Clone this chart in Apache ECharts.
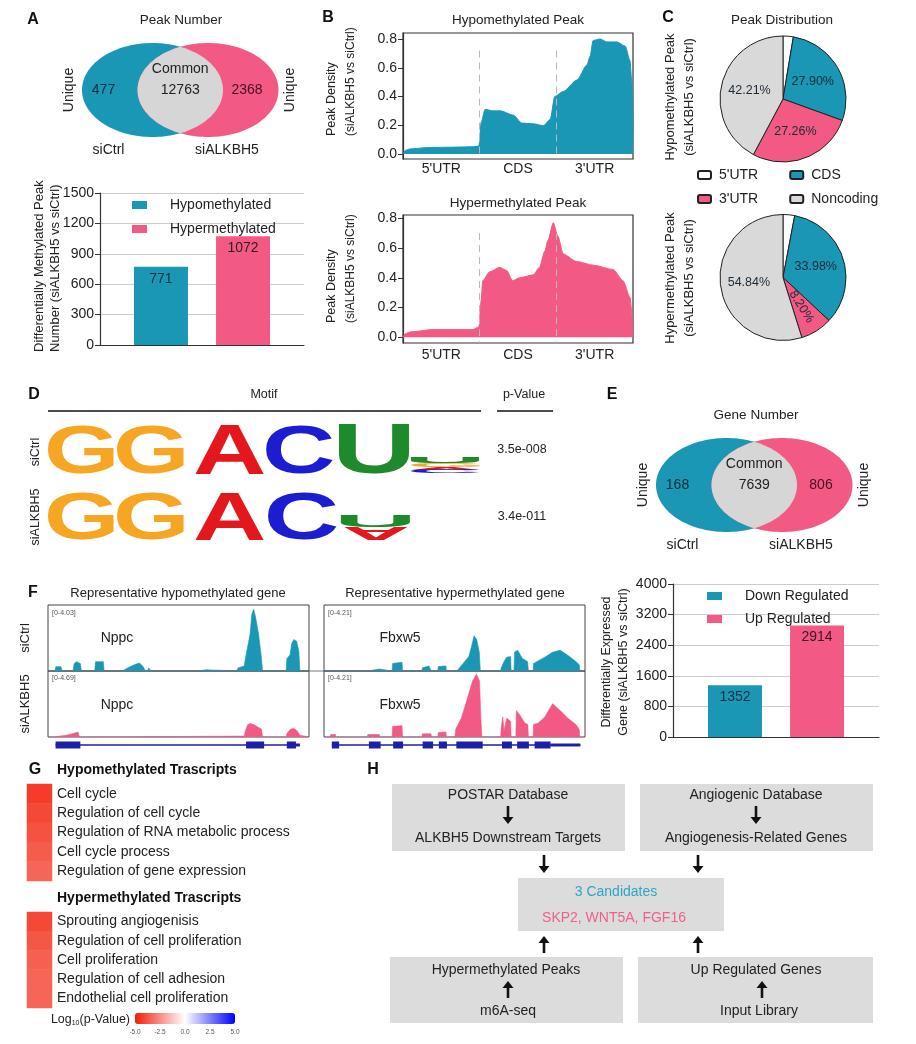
<!DOCTYPE html>
<html><head><meta charset="utf-8">
<script src="https://cdn.jsdelivr.net/npm/echarts@6/dist/echarts.min.js"></script>
<style>html,body{margin:0;padding:0;background:#fff}#c{width:916px;height:1044px}</style>
</head><body><div id="c"></div>
<script>
const FONT = '"Liberation Sans", Arial, Helvetica, sans-serif';
const LOGOFONT = '"Liberation Sans", Arial, Helvetica, sans-serif';
const TEAL = '#1b97b6', PINK = '#f25a83', VGRAY = '#d6d6d6', PGRAY = '#d9d9d9';

// ---------------- data ----------------
const vennGroups = ['siCtrl', 'siALKBH5'];
const peakVennValues = [477, 12763, 2368];   // siCtrl unique, common, siALKBH5 unique
const geneVennValues = [168, 7639, 806];
const dmpNames = ['Hypomethylated', 'Hypermethylated'];
const dmpValues = [771, 1072];
const dmpTicks = [0, 300, 600, 900, 1200, 1500];
const degNames = ['Down Regulated', 'Up Regulated'];
const degValues = [1352, 2914];
const degTicks = [0, 800, 1600, 2400, 3200, 4000];
const regionLabels = ["5'UTR", 'CDS', "3'UTR"];
const densityTicks = [0, 0.2, 0.4, 0.6, 0.8];
const hypoDensity = [[0,0],[0.03,0.025],[0.09,0.035],[0.31,0.044],[0.6,0.047],[0.92,0.05],[0.99,0.055],[1.02,0.22],[1.07,0.31],[1.18,0.30],[1.27,0.30],[1.44,0.27],[1.55,0.215],[1.7,0.21],[1.83,0.197],[1.92,0.24],[1.98,0.40],[2.09,0.435],[2.27,0.515],[2.40,0.62],[2.44,0.68],[2.48,0.79],[2.57,0.80],[2.66,0.78],[2.79,0.78],[2.90,0.75],[2.96,0.65],[2.985,0.5],[3.0,0.15]];
const hyperDensity = [[0,0],[0.03,0.025],[0.09,0.036],[0.39,0.052],[0.91,0.052],[0.99,0.07],[1.02,0.25],[1.04,0.38],[1.13,0.44],[1.26,0.47],[1.35,0.45],[1.43,0.38],[1.52,0.40],[1.70,0.42],[1.78,0.47],[1.85,0.58],[1.89,0.65],[1.96,0.77],[2.02,0.68],[2.09,0.56],[2.26,0.51],[2.48,0.485],[2.74,0.456],[2.87,0.38],[2.96,0.27],[3.0,0.05]];
const pieNames = ["5'UTR", 'CDS', "3'UTR", 'Noncoding'];
const hypoPiePct = [2.63, 27.90, 27.26, 42.21];
const hyperPiePct = [2.98, 33.98, 8.20, 54.84];
const motifSamples = ['siCtrl', 'siALKBH5'];
const motifPValues = ['3.5e-008', '3.4e-011'];
const trackGenes = ['Nppc', 'Fbxw5'];
const trackRanges = ['[0-4.03]', '[0-4.69]', '[0-4.21]', '[0-4.21]'];
const nppcCtrl = [[0,0],[2.6,0],[3,0.07],[5,0.07],[5.4,0],[9.6,0],[10,0.12],[11,0.15],[12.4,0.12],[12.8,0],[17.9,0],[18.2,0.15],[21.2,0.15],[21.5,0],[24,0],[24.4,0.03],[25.5,0],[28.5,0],[30.5,0.05],[33,0.1],[35,0.13],[36.5,0.07],[37.3,0],[38.2,0],[38.6,0.05],[39.5,0],[57.8,0],[58.3,0.02],[60.5,0.02],[61,0],[72.3,0],[72.8,0.05],[75.2,0.08],[75.6,0.2],[77.4,0.59],[78.1,0.92],[78.8,1.0],[79.6,0.86],[80.7,0.59],[81.8,0.2],[82.2,0],[91.2,0],[91.3,0.04],[91.5,0.2],[92.7,0.26],[93.4,0.45],[94.2,0.51],[95.3,0.48],[96.1,0.32],[96.5,0],[100,0]];
const nppcKD = [[0,0],[2,0],[2.4,0.02],[7,0.03],[9,0.05],[11.5,0.08],[12,0],[12.4,0.015],[75.2,0.015],[75.6,0.1],[76.5,0.2],[77.5,0.22],[79,0.2],[80.5,0.16],[81.8,0.13],[82.2,0],[91.2,0],[91.6,0.06],[93,0.13],[94.2,0.14],[95.5,0.1],[96.5,0.03],[97,0],[100,0]];
const fbxw5Ctrl = [[0,0],[16.6,0],[16.8,0.03],[21.2,0.03],[21.4,0],[26.1,0],[26.3,0.12],[27,0.14],[29.9,0.14],[30.1,0],[37.5,0],[37.7,0.05],[40.2,0.08],[40.9,0.06],[41.1,0],[43.6,0],[43.8,0.07],[46.7,0.08],[46.9,0],[50.9,0],[51.1,0.03],[53.3,0.12],[55.5,0.23],[56.6,0.4],[57.5,0.56],[58.5,0.5],[59.5,0.3],[59.9,0],[67.7,0],[67.9,0.05],[69,0.15],[70,0.22],[71.5,0.23],[71.7,0],[72.8,0],[73,0.3],[74.2,0.33],[76,0.2],[78,0.15],[78.3,0],[80.1,0],[80.3,0.12],[82,0.16],[84.6,0.22],[87.6,0.3],[90.5,0.33],[93.4,0.25],[96.5,0.15],[97.8,0.1],[98,0],[100,0]];
const fbxw5KD = [[0,0],[2.4,0],[2.6,0.04],[4.4,0.04],[4.6,0],[16.6,0],[16.8,0.04],[21.2,0.04],[21.4,0],[26.1,0],[26.3,0.17],[29.9,0.18],[30.1,0],[37.5,0],[37.7,0.05],[41,0.05],[41.2,0],[43.6,0],[43.8,0.07],[46.7,0.08],[46.9,0],[50.2,0],[50.4,0.12],[52.6,0.3],[54.7,0.58],[56.9,0.89],[58.4,1.0],[59.6,0.89],[60.1,0.3],[60.5,0],[67.7,0],[67.9,0.15],[68.5,0.32],[69,0.1],[70,0.3],[71.5,0.25],[71.7,0],[73.5,0],[73.7,0.42],[75,0.35],[77,0.22],[78.1,0.2],[78.3,0],[80.1,0],[80.3,0.2],[82,0.22],[84.6,0.32],[87.6,0.53],[90.5,0.42],[93.4,0.3],[96.5,0.2],[97.8,0.12],[98,0],[100,0]];
// gene models: [start, end, kind] kind 0 = intron, 1 = UTR, 2 = exon
const nppcModel = [[2.9,96.4,0],[2.9,12.4,2],[75.9,82.8,2],[91.5,95.0,2],[95.0,96.5,1]];
const fbxw5Model = [[3,98.2,0],[3,5.8,2],[17.2,21.7,2],[26.5,30.3,2],[37.8,41.8,2],[44,47.1,2],[50.7,60.8,2],[68.2,72,2],[74,78.5,2],[80.7,86.8,2],[86.8,98.2,1]];
const hypoTerms = ['Cell cycle','Regulation of cell cycle','Regulation of RNA metabolic process','Cell cycle process','Regulation of gene expression'];
const hypoLogP = [-4.3, -4.0, -3.8, -3.6, -3.4];
const hyperTerms = ['Sprouting angiogenisis','Regulation of cell proliferation','Cell proliferation','Regulation of cell adhesion','Endothelial cell proliferation'];
const hyperLogP = [-4.0, -3.7, -3.5, -3.4, -3.4];
const colorScaleTicks = [-5, -2.5, 0, 2.5, 5];

// ---------------- helpers ----------------
function txt(x, y, text, o) {
  o = o || {};
  const align = o.align || 'center', va = o.va || 'middle';
  const st = {text: text, fill: o.color || '#222', font: (o.weight || 'normal') + ' ' + (o.size || 13) + 'px ' + FONT,
    align: align, verticalAlign: va, textAlign: align, textVerticalAlign: va};
  if (o.rich) st.rich = o.rich;
  return {type: 'text', x: x, y: y, rotation: o.rot || 0, silent: true, z: 100, style: st};
}
function ellipsePts(cx, cy, rx, ry) {
  const p = [];
  for (let i = 0; i < 160; i++) { const t = i / 160 * Math.PI * 2; p.push([cx + rx * Math.cos(t), cy + ry * Math.sin(t)]); }
  return p;
}
function lensPts(cxL, cxR, cy, rx, ry) {
  const xm = (cxL + cxR) / 2, t0 = Math.acos((xm - cxL) / rx), p = [];
  for (let i = 0; i <= 60; i++) { const t = -t0 + 2 * t0 * i / 60; p.push([cxL + rx * Math.cos(t), cy + ry * Math.sin(t)]); }
  for (let i = 0; i <= 60; i++) { const t = t0 - 2 * t0 * i / 60; p.push([cxR - rx * Math.cos(t), cy + ry * Math.sin(t)]); }
  return p;
}
function venn(cxL, cxR, cy, rx, ry, values, names) {
  const els = [
    {type: 'polygon', shape: {points: ellipsePts(cxL, cy, rx, ry)}, style: {fill: TEAL}, z: 5},
    {type: 'polygon', shape: {points: ellipsePts(cxR, cy, rx, ry)}, style: {fill: PINK}, z: 6},
    {type: 'polygon', shape: {points: lensPts(cxL, cxR, cy, rx, ry)}, style: {fill: VGRAY}, z: 7}
  ];
  const mid = (cxL + cxR) / 2;
  els.push(txt(mid, cy - 21, 'Common', {size: 14}));
  els.push(txt(mid, cy, String(values[1]), {size: 14}));
  els.push(txt(cxL - 49, cy, String(values[0]), {size: 14, color: '#0f2a38'}));
  els.push(txt(cxR + 39, cy, String(values[2]), {size: 14, color: '#4a0f24'}));
  els.push(txt(cxL - rx - 13, cy, 'Unique', {size: 14, rot: Math.PI / 2}));
  els.push(txt(cxR + rx + 12, cy, 'Unique', {size: 14, rot: Math.PI / 2}));
  els.push(txt(cxL - 44, cy + 60, names[0], {size: 14}));
  els.push(txt(cxR + 19, cy + 60, names[1], {size: 14}));
  return els;
}
const mctx = document.createElement('canvas').getContext('2d');
function letter(ch, color, x0, y0, x1, y1, flip) {
  const font = 'bold 100px ' + LOGOFONT;
  mctx.font = font; mctx.textBaseline = 'middle'; mctx.textAlign = 'left';
  const m = mctx.measureText(ch);
  const L = m.actualBoundingBoxLeft, R = m.actualBoundingBoxRight, A = m.actualBoundingBoxAscent, D = m.actualBoundingBoxDescent;
  const sx = (x1 - x0) / (L + R), h = (y1 - y0) / (A + D);
  return {type: 'text', x: x0 + sx * L, y: flip ? y0 + h * D : y0 + h * A, scaleX: sx, scaleY: flip ? -h : h,
    silent: true, z: 50, style: {text: ch, font: font, fill: color, align: 'left', verticalAlign: 'middle', textAlign: 'left', textVerticalAlign: 'middle'}};
}
function arrow(x, yFrom, yTo) {
  const dir = Math.sign(yTo - yFrom), hl = 7, hw = 5.5, yb = yTo - dir * hl;
  return [
    {type: 'line', shape: {x1: x, y1: yFrom, x2: x, y2: yb + dir}, style: {stroke: '#111', lineWidth: 2.6}, z: 60},
    {type: 'polygon', shape: {points: [[x - hw, yb], [x + hw, yb], [x, yTo]]}, style: {fill: '#111'}, z: 60}
  ];
}
const OG = '#f6a623', RD = '#e3171c', BL = '#1c1cd0', GR = '#1e8a2b';

// ---------------- graphics ----------------
let G = [];
[['A',33,20],['B',328,18],['C',668,18],['D',34,395],['E',612,395],['F',33,593],['G',35,770],['H',373,770]].forEach(function (p) {
  G.push(txt(p[1], p[2], p[0], {size: 16, weight: 'bold', color: '#111'}));
});
// A
G.push(txt(181, 20, 'Peak Number', {size: 13.5}));
G = G.concat(venn(152.5, 208, 90, 70.5, 47, peakVennValues, vennGroups));
G.push(txt(39, 352, 'Differentially Methylated Peak', {size: 13, rot: Math.PI / 2, align: 'left'}));
G.push(txt(55, 352, 'Number (siALKBH5 vs siCtrl)', {size: 13, rot: Math.PI / 2, align: 'left'}));
// B
G.push(txt(518, 20, 'Hypomethylated Peak', {size: 13.5}));
G.push(txt(518, 203, 'Hypermethylated Peak', {size: 13.5}));
G.push(txt(332, 136, 'Peak Density', {size: 12.5, rot: Math.PI / 2, align: 'left'}));
G.push(txt(351, 136, '(siALKBH5 vs siCtrl)', {size: 12, rot: Math.PI / 2, align: 'left'}));
G.push(txt(332, 323, 'Peak Density', {size: 12.5, rot: Math.PI / 2, align: 'left'}));
G.push(txt(351, 323, '(siALKBH5 vs siCtrl)', {size: 12, rot: Math.PI / 2, align: 'left'}));
// C
G.push(txt(782, 20, 'Peak Distribution', {size: 13.5}));
G.push(txt(670, 97, 'Hypomethylated Peak', {size: 13, rot: Math.PI / 2}));
G.push(txt(689, 97, '(siALKBH5 vs siCtrl)', {size: 13, rot: Math.PI / 2}));
G.push(txt(670, 278, 'Hypermethylated Peak', {size: 13, rot: Math.PI / 2}));
G.push(txt(689, 278, '(siALKBH5 vs siCtrl)', {size: 13, rot: Math.PI / 2}));
// D
G.push(txt(264, 395, 'Motif', {size: 12.5}));
G.push(txt(524, 395, 'p-Value', {size: 12.5}));
G.push({type: 'line', shape: {x1: 48, y1: 411, x2: 481, y2: 411}, style: {stroke: '#111', lineWidth: 1.6}});
G.push({type: 'line', shape: {x1: 497, y1: 411, x2: 553, y2: 411}, style: {stroke: '#111', lineWidth: 1.6}});
G.push(txt(36, 452, motifSamples[0], {size: 12.5, rot: Math.PI / 2}));
G.push(txt(36, 517, motifSamples[1], {size: 12.5, rot: Math.PI / 2}));
G.push(txt(522, 450, motifPValues[0], {size: 12.5}));
G.push(txt(522, 517, motifPValues[1], {size: 12.5}));
G.push(letter('G', OG, 48, 425, 114, 474));
G.push(letter('G', OG, 117, 425, 184, 474));
G.push(letter('A', RD, 195, 425, 264, 474));
G.push(letter('C', BL, 266, 425, 333, 474));
G.push(letter('U', GR, 339, 425, 410, 474));
G.push(letter('U', GR, 411, 456, 480, 463));
G.push(letter('G', OG, 411, 463.5, 480, 467));
G.push(letter('A', RD, 411, 467, 480, 469.5));
G.push(letter('C', BL, 411, 469.5, 480, 473));
G.push(letter('G', OG, 48, 492, 114, 540));
G.push(letter('G', OG, 117, 492, 184, 540));
G.push(letter('A', RD, 195, 492, 264, 540));
G.push(letter('C', BL, 268, 492, 337, 540));
G.push(letter('U', GR, 341, 515, 411, 527));
G.push(letter('A', RD, 344, 527, 408, 540, true));
// E
G.push(txt(756, 415, 'Gene Number', {size: 13.5}));
G = G.concat(venn(726.5, 782, 485, 70.5, 47, geneVennValues, vennGroups));
// F
G.push(txt(178, 593, 'Representative hypomethylated gene', {size: 13}));
G.push(txt(455, 593, 'Representative hypermethylated gene', {size: 13}));
G.push(txt(25, 638, vennGroups[0], {size: 13, rot: Math.PI / 2}));
G.push(txt(25, 704, vennGroups[1], {size: 13, rot: Math.PI / 2}));
G.push(txt(117, 638, trackGenes[0], {size: 14}));
G.push(txt(117, 705, trackGenes[0], {size: 14}));
G.push(txt(400, 638, trackGenes[1], {size: 14}));
G.push(txt(400, 705, trackGenes[1], {size: 14}));
G.push(txt(52, 613, trackRanges[0], {size: 7, align: 'left', color: '#555'}));
G.push(txt(52, 678, trackRanges[1], {size: 7, align: 'left', color: '#555'}));
G.push(txt(328, 613, trackRanges[2], {size: 7, align: 'left', color: '#555'}));
G.push(txt(328, 678, trackRanges[3], {size: 7, align: 'left', color: '#555'}));
G.push({type: 'line', shape: {x1: 309, y1: 671, x2: 324, y2: 671}, style: {stroke: '#555', lineWidth: 0.8}});
G.push(txt(607, 662, 'Differentially Expressed', {size: 12.5, rot: Math.PI / 2}));
G.push(txt(624, 662, 'Gene (siALKBH5 vs siCtrl)', {size: 12.5, rot: Math.PI / 2}));
// G
G.push(txt(57, 770, 'Hypomethylated Trascripts', {size: 14, weight: 'bold', align: 'left', color: '#111'}));
G.push(txt(57, 898, 'Hypermethylated Trascripts', {size: 14, weight: 'bold', align: 'left', color: '#111'}));
G.push(txt(130, 1020, 'Log{s|10}(p-Value)', {size: 12.5, align: 'right', rich: {s: {fontSize: 7, verticalAlign: 'bottom', padding: [6, 0, 0, 0], fontFamily: FONT}}}));
colorScaleTicks.forEach(function (v) {
  G.push(txt(135 + (v - colorScaleTicks[0]) / (colorScaleTicks[4] - colorScaleTicks[0]) * 100, 1032, v.toFixed(1), {size: 6.5, color: '#555'}));
});
// H
[[392, 784, 233, 67], [640, 784, 233, 67], [518, 878, 206, 53], [390, 957, 233, 66], [638, 957, 235, 66]].forEach(function (b) {
  G.push({type: 'rect', shape: {x: b[0], y: b[1], width: b[2], height: b[3]}, style: {fill: '#dcdcdc'}, z: 1});
});
G.push(txt(508, 795, 'POSTAR Database', {size: 14}));
G.push(txt(508, 838, 'ALKBH5 Downstream Targets', {size: 14}));
G.push(txt(756, 795, 'Angiogenic Database', {size: 14}));
G.push(txt(756, 838, 'Angiogenesis-Related Genes', {size: 14}));
G.push(txt(616, 892, '3 Candidates', {size: 14, color: '#2aa7c6'}));
G.push(txt(614, 918, 'SKP2, WNT5A, FGF16', {size: 14, color: '#f0608a'}));
G.push(txt(506, 970, 'Hypermethylated Peaks', {size: 14}));
G.push(txt(508, 1011, 'm6A-seq', {size: 14}));
G.push(txt(756, 970, 'Up Regulated Genes', {size: 14}));
G.push(txt(759, 1011, 'Input Library', {size: 14}));
G = G.concat(arrow(508, 806, 824), arrow(756, 806, 824), arrow(544, 855, 873), arrow(698, 855, 873),
  arrow(544, 953, 936), arrow(698, 953, 936), arrow(508, 998, 981), arrow(762, 998, 981));

// ---------------- axes / grids ----------------
const grids = [
  {left: 100, top: 193, width: 204, height: 152},
  {left: 403, top: 33, width: 230, height: 126, show: true, borderColor: '#333', borderWidth: 1.2},
  {left: 403, top: 215, width: 230, height: 128, show: true, borderColor: '#333', borderWidth: 1.2},
  {left: 48, top: 605, width: 261, height: 66, show: true, borderColor: '#444', borderWidth: 1},
  {left: 48, top: 671, width: 261, height: 66, show: true, borderColor: '#444', borderWidth: 1},
  {left: 324, top: 605, width: 261, height: 66, show: true, borderColor: '#444', borderWidth: 1},
  {left: 324, top: 671, width: 261, height: 66, show: true, borderColor: '#444', borderWidth: 1},
  {left: 48, top: 740, width: 261, height: 10},
  {left: 324, top: 740, width: 261, height: 10},
  {left: 673, top: 584, width: 206, height: 153},
  {left: 27, top: 784, width: 25, height: 97},
  {left: 27, top: 912, width: 25, height: 96}
];
function barY(gi, ticks) {
  return {gridIndex: gi, type: 'value', min: ticks[0], max: ticks[ticks.length - 1], interval: ticks[1] - ticks[0],
    axisLine: {show: true, lineStyle: {color: '#333', width: 1.2}}, axisTick: {show: true, length: 5, lineStyle: {color: '#333'}},
    axisLabel: {fontSize: 14, color: '#222', margin: 6, fontFamily: FONT, formatter: function (v) { return String(v); }},
    splitLine: {lineStyle: {color: '#cdcdcd'}}};
}
function barX(gi) {
  return {gridIndex: gi, type: 'category', data: [''], axisLine: {show: true, lineStyle: {color: '#333', width: 1.2}}, axisTick: {show: false}, axisLabel: {show: false}};
}
function densY(gi, mn, mx) {
  return {gridIndex: gi, type: 'value', min: mn, max: mx, axisLine: {show: true, lineStyle: {color: '#333', width: 1.2}},
    axisTick: {show: true, customValues: densityTicks, length: 5, lineStyle: {color: '#333'}},
    axisLabel: {customValues: densityTicks, formatter: function (v) { return Number(v).toFixed(1); }, fontSize: 14, color: '#222', margin: 6, fontFamily: FONT},
    splitLine: {show: false}};
}
function densX(gi, margin) {
  return {gridIndex: gi, type: 'value', min: 0, max: regionLabels.length,
    axisLabel: {customValues: regionLabels.map(function (r, i) { return i + 0.5; }), formatter: function (v) { return regionLabels[Math.floor(v)]; }, fontSize: 14, color: '#222', margin: margin, fontFamily: FONT},
    axisTick: {show: false}, axisLine: {show: false}, splitLine: {show: false}};
}
function hidX(gi) { return {gridIndex: gi, type: 'value', min: 0, max: 100, show: false}; }
function hidY(gi, mx) { return {gridIndex: gi, type: 'value', min: 0, max: mx, show: false}; }
function heatY(gi, terms) {
  return {gridIndex: gi, type: 'category', data: terms, inverse: true, position: 'right', axisLine: {show: false}, axisTick: {show: false},
    axisLabel: {fontSize: 14, color: '#222', margin: 5, align: 'left', fontFamily: FONT}};
}
const xAxes = [barX(0), densX(1, 3), densX(2, 5), hidX(3), hidX(4), hidX(5), hidX(6), hidX(7), hidX(8), barX(9),
  {gridIndex: 10, type: 'category', data: [''], show: false}, {gridIndex: 11, type: 'category', data: [''], show: false}];
const yAxes = [barY(0, dmpTicks), densY(1, -0.035, 0.842), densY(2, -0.038, 0.822), hidY(3, 1.07), hidY(4, 1.08), hidY(5, 1.05), hidY(6, 1.05),
  hidY(7, 1), hidY(8, 1), barY(9, degTicks), heatY(10, hypoTerms), heatY(11, hyperTerms)];

// ---------------- series ----------------
function barSeries(name, value, color, gi, labelColor, first) {
  const s = {type: 'bar', name: name, xAxisIndex: gi, yAxisIndex: gi, data: [value], barWidth: 54, itemStyle: {color: color},
    label: {show: true, position: 'insideTop', distance: 5, fontSize: 14, color: labelColor, fontFamily: FONT}};
  if (first) s.barGap = '52%';
  return s;
}
function densSeries(gi, data, color, dashTop, yMin) {
  return {type: 'line', xAxisIndex: gi, yAxisIndex: gi, data: data, showSymbol: false, smooth: 0.25, smoothMonotone: 'x',
    lineStyle: {color: color, width: 1}, areaStyle: {color: color, opacity: 1}, silent: true,
    markLine: {silent: true, symbol: ['none', 'none'], label: {show: false}, z: 10,
      lineStyle: {color: '#b8b8b8', type: [7, 5], width: 1},
      data: [1, 2].map(function (b) { return [{coord: [b, dashTop]}, {coord: [b, yMin]}]; })}};
}
function pieSeries(values, cy, rotate3) {
  return {type: 'pie', center: [783, cy], radius: 63, startAngle: 90, clockwise: true, animation: false,
    itemStyle: {borderColor: '#222', borderWidth: 1},
    label: {show: true, position: 'inside', fontSize: 12.5, color: '#1d2a36', fontFamily: FONT,
      formatter: function (p) { return p.value.toFixed(2) + '%'; }},
    labelLine: {show: false},
    data: pieNames.map(function (n, i) {
      const d = {name: n, value: values[i], itemStyle: {color: ['#ffffff', TEAL, PINK, PGRAY][i]}};
      if (i === 0) d.label = {show: false};
      if (i === 2 && rotate3) d.label = {rotate: 'radial'};
      return d;
    })};
}
function trackSeries(gi, data, color) {
  return {type: 'line', xAxisIndex: gi, yAxisIndex: gi, data: data, showSymbol: false, smooth: false, silent: true,
    lineStyle: {color: color, width: 0.6}, areaStyle: {color: color, opacity: 1}};
}
function geneSeries(gi, data) {
  return {type: 'custom', xAxisIndex: gi, yAxisIndex: gi, data: data, silent: true,
    renderItem: function (params, api) {
      const s = api.coord([api.value(0), 0.5]), e = api.coord([api.value(1), 0.5]);
      const h = [1.3, 3, 7][api.value(2)];
      return {type: 'rect', shape: {x: s[0], y: s[1] - h / 2, width: Math.max(1, e[0] - s[0]), height: h}, style: {fill: '#1c1fa8'}};
    }};
}
function heatSeries(gi, vals) {
  return {type: 'heatmap', xAxisIndex: gi, yAxisIndex: gi, data: vals.map(function (v, i) { return [0, i, v]; }), silent: true, itemStyle: {borderWidth: 0}};
}
const series = [
  barSeries(dmpNames[0], dmpValues[0], TEAL, 0, '#14303f', true),
  barSeries(dmpNames[1], dmpValues[1], PINK, 0, '#3c1424', false),
  densSeries(1, hypoDensity, TEAL, 0.72, -0.035),
  densSeries(2, hyperDensity, PINK, 0.70, -0.038),
  pieSeries(hypoPiePct, 99, false),
  pieSeries(hyperPiePct, 277.5, true),
  trackSeries(3, nppcCtrl, TEAL),
  trackSeries(4, nppcKD, PINK),
  trackSeries(5, fbxw5Ctrl, TEAL),
  trackSeries(6, fbxw5KD, PINK),
  geneSeries(7, nppcModel),
  geneSeries(8, fbxw5Model),
  barSeries(degNames[0], degValues[0], TEAL, 9, '#14303f', true),
  barSeries(degNames[1], degValues[1], PINK, 9, '#3c1424', false),
  heatSeries(10, hypoLogP),
  heatSeries(11, hyperLogP)
];
function leg(names, left, top, orient, iw, ih, gap, textPad) {
  return {data: names, left: left, top: top, orient: orient, itemWidth: iw, itemHeight: ih, itemGap: gap, padding: 0,
    selectedMode: false, icon: 'rect', textStyle: {fontSize: 14, color: '#222', fontFamily: FONT, padding: [0, 0, 0, textPad]}};
}
const legends = [
  leg(dmpNames, 132, 198, 'vertical', 15, 8, 10, 18),
  leg(degNames, 707, 589, 'vertical', 15, 8, 9, 18),
  Object.assign(leg(pieNames.slice(0, 2), 697, 168, 'horizontal', 13, 8, 31, 3), {icon: 'roundRect'}),
  Object.assign(leg(pieNames.slice(2, 4), 697, 192, 'horizontal', 13, 8, 31, 3), {icon: 'roundRect'})
];

const chart = echarts.init(document.getElementById('c'));
chart.setOption({
  animation: false,
  backgroundColor: '#ffffff',
  textStyle: {fontFamily: FONT},
  grid: grids,
  xAxis: xAxes,
  yAxis: yAxes,
  legend: legends,
  visualMap: [{type: 'continuous', min: colorScaleTicks[0], max: colorScaleTicks[4], orient: 'horizontal', left: 135, top: 1013, padding: 0,
    itemWidth: 11, itemHeight: 100, calculable: false, seriesIndex: [14, 15], inRange: {color: ['#f21c06', '#ffffff', '#0000ff']}, textStyle: {fontSize: 1, color: 'rgba(0,0,0,0)'}}],
  series: series,
  graphic: {elements: G}
});
</script></body></html>
